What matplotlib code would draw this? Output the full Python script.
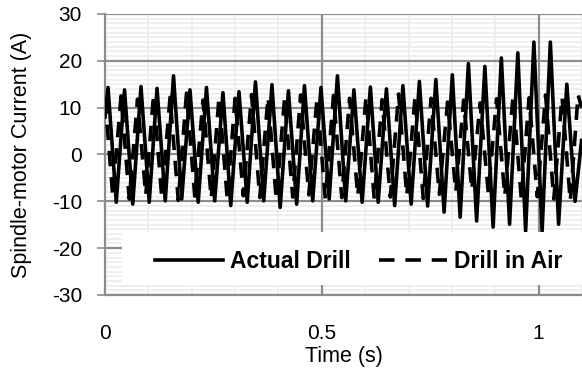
import matplotlib.pyplot as plt
import numpy as np
from matplotlib.patches import Rectangle

plt.rcParams['font.family'] = ['Liberation Sans', 'DejaVu Sans']
plt.rcParams['axes.unicode_minus'] = False

# Actual drill: times (s) and values (A) of peaks and troughs
drill_peak_t = [0.007, 0.045, 0.083, 0.120, 0.158, 0.196, 0.234, 0.272, 0.309, 0.347,
                0.385, 0.423, 0.460, 0.498, 0.536, 0.574, 0.612, 0.649, 0.687, 0.725,
                0.763, 0.801, 0.838, 0.876, 0.914, 0.952, 0.989, 1.027, 1.065]
drill_peak_v = [14.3, 13.8, 14.5, 14.1, 16.8, 13.8, 14.3, 13.2, 13.4, 15.5,
                14.9, 13.6, 14.7, 14.3, 16.8, 13.8, 14.4, 14.0, 14.7, 15.6,
                16.0, 17.0, 19.4, 18.8, 20.6, 21.7, 24.0, 24.0, 15.0]
drill_trough_t = [0.0, 0.026, 0.064, 0.102, 0.139, 0.177, 0.215, 0.253, 0.290, 0.328,
                  0.366, 0.404, 0.442, 0.479, 0.517, 0.555, 0.593, 0.630, 0.668, 0.706,
                  0.744, 0.782, 0.819, 0.857, 0.895, 0.933, 0.970, 1.008, 1.046, 1.084, 1.099]
drill_trough_v = [8.0, -10.2, -10.6, -10.2, -9.9, -9.5, -10.2, -9.9, -10.9, -10.2,
                  -9.9, -11.3, -10.6, -9.9, -9.5, -9.9, -10.2, -10.2, -10.9, -10.6,
                  -11.0, -12.3, -13.4, -14.2, -15.5, -14.9, -16.4, -16.4, -14.9, -10.0, 3.0]

# Drill in air: times (s) and values (A) of peaks and troughs
air_peak_t = [0.000, 0.037, 0.075, 0.112, 0.150, 0.188, 0.226, 0.263, 0.300, 0.338,
              0.376, 0.414, 0.451, 0.489, 0.527, 0.564, 0.602, 0.639, 0.677, 0.715,
              0.752, 0.790, 0.827, 0.865, 0.903, 0.941, 0.978, 1.016, 1.054, 1.091]
air_peak_v = [12.0, 12.5, 11.8, 12.9, 12.2, 13.1, 11.6, 12.4, 12.0, 12.8,
              12.3, 11.9, 12.7, 12.1, 12.6, 12.0, 12.4, 11.7, 12.9, 12.3,
              12.0, 11.2, 11.6, 11.0, 11.9, 12.5, 12.1, 12.7, 12.3, 12.8]
air_trough_t = [0.018, 0.056, 0.094, 0.131, 0.169, 0.207, 0.245, 0.282, 0.319, 0.357,
                0.395, 0.433, 0.470, 0.508, 0.546, 0.583, 0.621, 0.658, 0.696, 0.734,
                0.771, 0.809, 0.846, 0.884, 0.922, 0.960, 0.997, 1.035, 1.073, 1.099]
air_trough_v = [-9.0, -9.5, -8.7, -9.3, -9.8, -8.9, -9.4, -9.6, -8.8, -9.2,
                -9.7, -9.1, -8.6, -9.4, -9.2, -8.9, -9.6, -9.1, -8.8, -9.4,
                -8.5, -8.0, -7.6, -8.2, -8.9, -9.4, -9.0, -9.5, -10.0, 10.0]

x_major = [0, 0.5, 1]
x_minor = [0.1, 0.2, 0.3, 0.4, 0.6, 0.7, 0.8, 0.9, 1.1]
y_major = [-30, -20, -10, 0, 10, 20, 30]


def merge(t1, v1, t2, v2):
    t = np.array(t1 + t2)
    v = np.array(v1 + v2)
    order = np.argsort(t, kind='stable')
    return t[order], v[order]


drill_t, drill_v = merge(drill_peak_t, drill_peak_v, drill_trough_t, drill_trough_v)
air_t, air_v = merge(air_peak_t, air_peak_v, air_trough_t, air_trough_v)

fig = plt.figure(figsize=(5.82, 3.71), dpi=100)
ax = fig.add_axes([0.1804, 0.2049, 0.8196, 0.7574])

ax.plot(drill_t, drill_v, color='black', lw=2.6, label='Actual Drill', zorder=3)
ax.plot(air_t, air_v, color='black', lw=2.6, linestyle=(0, (4.3, 3)),
        label='Drill in Air', zorder=3)

ax.set_xlim(0, 1.1)
ax.set_ylim(-30, 30)
ax.set_xticks(x_major)
ax.set_xticklabels(['0', '0.5', '1'])
ax.set_yticks(y_major)
ax.set_xticks(x_minor, minor=True)
ax.set_yticks([v for v in range(-30, 30) if v % 10], minor=True)

# light minor grid, darker major lines on top of it
ax.grid(which='minor', color='#ececec', lw=1.2)
ax.set_axisbelow(True)
for v in y_major:
    ax.axhline(v, color='#8c8c8c', lw=1.6, zorder=1)
for v in x_major[1:]:
    ax.axvline(v, color='#8c8c8c', lw=1.6, zorder=1)

for side in ['top', 'right']:
    ax.spines[side].set_visible(False)
for side in ['left', 'bottom']:
    ax.spines[side].set_color('#8c8c8c')
    ax.spines[side].set_linewidth(1.6)

ax.tick_params(axis='y', which='major', length=5.5, color='#8c8c8c', width=1.2,
               labelsize=15, pad=11)
ax.tick_params(axis='x', which='major', length=0, labelsize=15, pad=21)
ax.tick_params(which='minor', length=0)

ax.set_xlabel('Time (s)', fontsize=15.5, labelpad=2)
ax.set_ylabel('Spindle-motor Current (A)', fontsize=15.5, labelpad=14)

# white legend panel
ax.add_patch(Rectangle((0.036, 0.036), 0.964, 0.189, transform=ax.transAxes,
                       facecolor='white', edgecolor='none', zorder=4))
leg = ax.legend(loc='center', bbox_to_anchor=(0.532, 0.118), ncol=2,
                frameon=False, handlelength=2.95, handletextpad=0.3,
                columnspacing=1.25, borderpad=0,
                prop={'weight': 'bold', 'size': 16.5})
leg.set_zorder(5)

fig.savefig('out.png', dpi=100)
